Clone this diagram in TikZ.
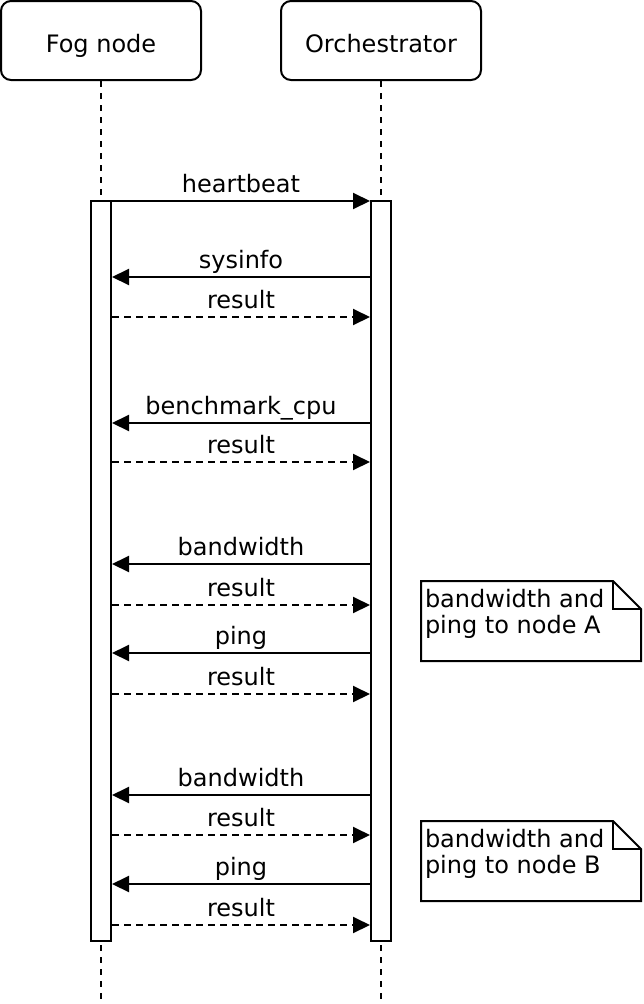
\documentclass[tikz,border=0pt]{standalone}
\usepackage{fontspec}
\setmainfont{DejaVu Sans}
\usetikzlibrary{arrows.meta, positioning}

\begin{document}
\begin{tikzpicture}[
  x=1pt, y=-1pt, line width=2pt,
  every node/.style={font=\fontsize{24}{26}\selectfont},
  actor/.style={draw, rounded corners=10pt, minimum width=200pt, minimum height=79pt,
    text height=23pt, text depth=0pt},
  bar/.style={draw, fill=white, minimum width=20pt, minimum height=740pt, inner sep=0pt},
  lifeline/.style={dash pattern=on 6pt off 6pt},
  msg/.style={-{Triangle[length=17pt, width=16pt]}},
  reply/.style={msg, dash pattern=on 7pt off 5pt},
  lbl/.style={midway, anchor=base, yshift=9pt, inner sep=0pt},
  notebox/.style={minimum width=220pt, minimum height=80pt, inner sep=0pt, outer sep=0pt, anchor=north west},
  notetext/.style={anchor=base west, align=left, inner sep=0pt}
]
  \useasboundingbox (0,0) rectangle (644,1004);

  % participants
  \node[actor] (fog) at (101,40.5) {Fog node};
  \node[actor] (orch) at (381,40.5) {Orchestrator};
  \coordinate (fogend) at (101,1000);
  \coordinate (orchend) at (381,1000);
  \draw[lifeline] (fog.south) -- (fogend);
  \draw[lifeline] (orch.south) -- (orchend);

  % activations
  \node[bar] (fogbar) at (101,571) {};
  \node[bar] (orchbar) at (381,571) {};

  % message rows
  \coordinate (m1) at (0,201);
  \coordinate (m2) at (0,277);
  \coordinate (m3) at (0,317);
  \coordinate (m4) at (0,423);
  \coordinate (m5) at (0,462);
  \coordinate (m6) at (0,564);
  \coordinate (m7) at (0,605);
  \coordinate (m8) at (0,653);
  \coordinate (m9) at (0,694);
  \coordinate (m10) at (0,795);
  \coordinate (m11) at (0,835);
  \coordinate (m12) at (0,884);
  \coordinate (m13) at (0,925);

  \draw[msg] (fogbar.east |- m1) -- (orchbar.west |- m1) node[lbl] {heartbeat};
  \draw[msg] (orchbar.west |- m2) -- (fogbar.east |- m2) node[lbl] {sysinfo};
  \draw[reply] (fogbar.east |- m3) -- (orchbar.west |- m3) node[lbl] {result};
  \draw[msg] (orchbar.west |- m4) -- (fogbar.east |- m4) node[lbl] {benchmark\_cpu};
  \draw[reply] (fogbar.east |- m5) -- (orchbar.west |- m5) node[lbl] {result};
  \draw[msg] (orchbar.west |- m6) -- (fogbar.east |- m6) node[lbl] {bandwidth};
  \draw[reply] (fogbar.east |- m7) -- (orchbar.west |- m7) node[lbl] {result};
  \draw[msg] (orchbar.west |- m8) -- (fogbar.east |- m8) node[lbl] {ping};
  \draw[reply] (fogbar.east |- m9) -- (orchbar.west |- m9) node[lbl] {result};
  \draw[msg] (orchbar.west |- m10) -- (fogbar.east |- m10) node[lbl] {bandwidth};
  \draw[reply] (fogbar.east |- m11) -- (orchbar.west |- m11) node[lbl] {result};
  \draw[msg] (orchbar.west |- m12) -- (fogbar.east |- m12) node[lbl] {ping};
  \draw[reply] (fogbar.east |- m13) -- (orchbar.west |- m13) node[lbl] {result};

  % notes
  \node[notebox] (noteA) at (421,581) {};
  \draw (noteA.north west) -- ([xshift=-28pt]noteA.north east) -- ([yshift=-28pt]noteA.north east)
    -- (noteA.south east) -- (noteA.south west) -- cycle;
  \draw ([xshift=-28pt]noteA.north east) -- ([xshift=-28pt, yshift=-28pt]noteA.north east)
    -- ([yshift=-28pt]noteA.north east);
  \node[notetext] (noteAtext) at ([xshift=3pt, yshift=-52pt]noteA.north west) {bandwidth and\\ping to node A};

  \node[notebox] (noteB) at (421,821) {};
  \draw (noteB.north west) -- ([xshift=-28pt]noteB.north east) -- ([yshift=-28pt]noteB.north east)
    -- (noteB.south east) -- (noteB.south west) -- cycle;
  \draw ([xshift=-28pt]noteB.north east) -- ([xshift=-28pt, yshift=-28pt]noteB.north east)
    -- ([yshift=-28pt]noteB.north east);
  \node[notetext] (noteBtext) at ([xshift=3pt, yshift=-52pt]noteB.north west) {bandwidth and\\ping to node B};
\end{tikzpicture}
\end{document}
